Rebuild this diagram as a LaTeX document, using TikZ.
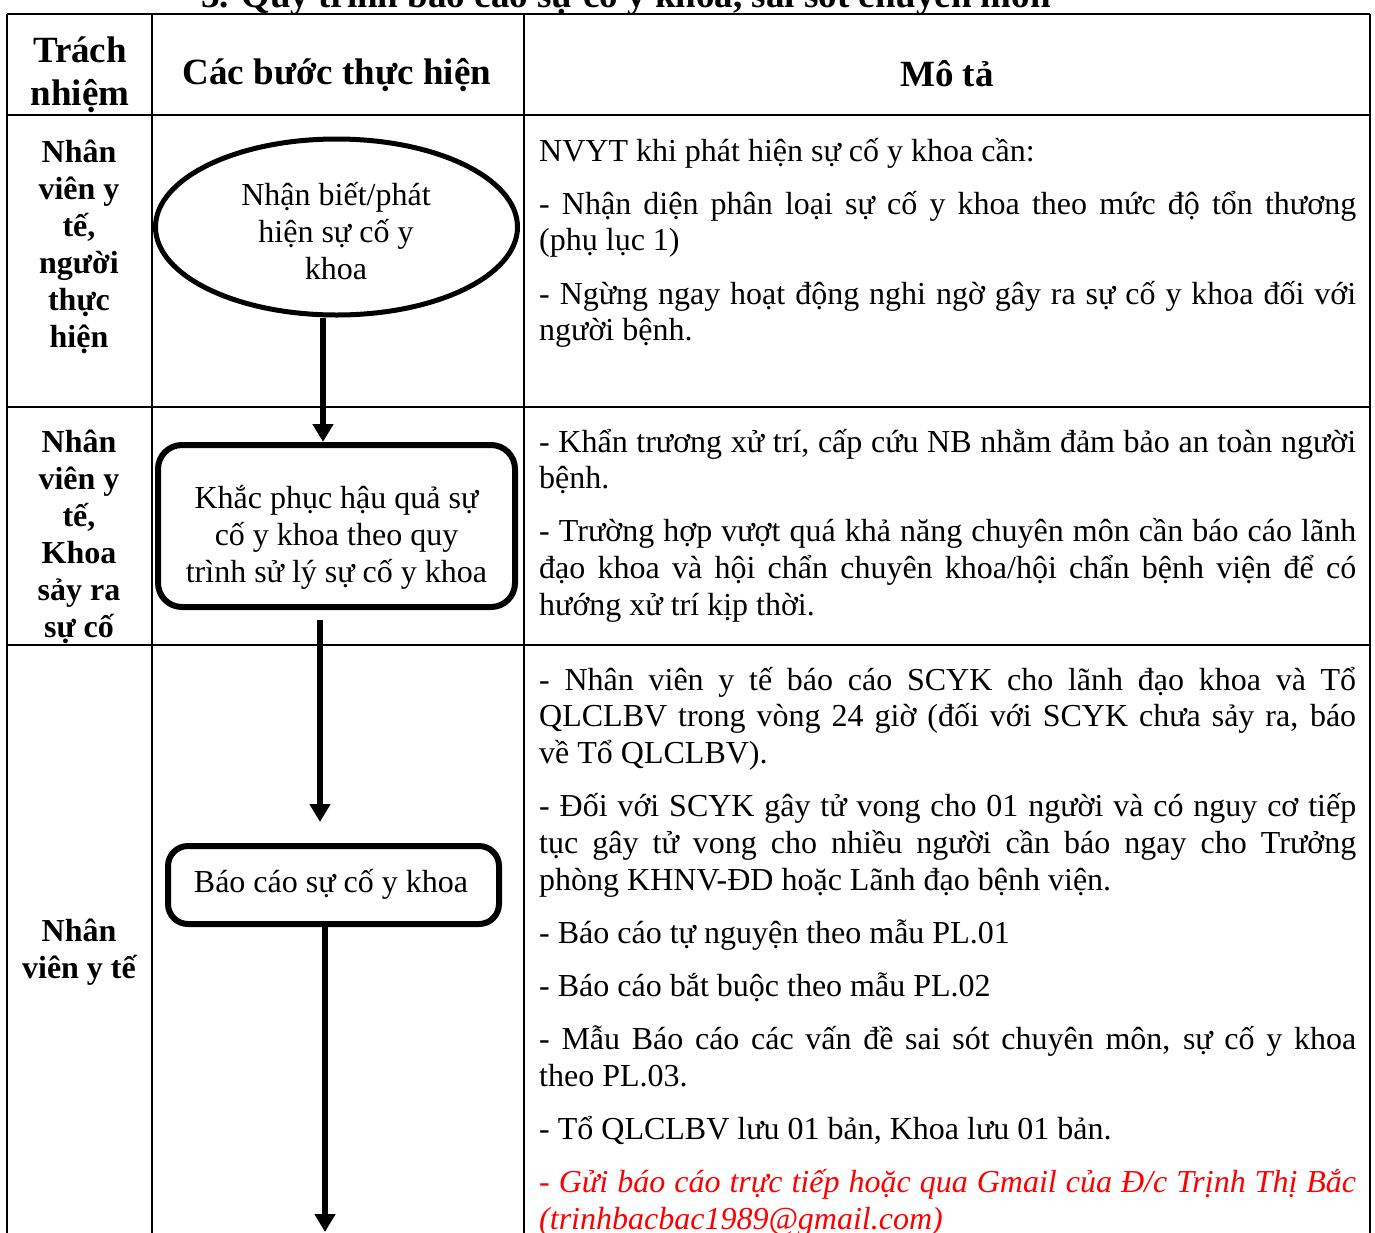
\documentclass[tikz,border=0pt]{standalone}
\usepackage{fontspec}
\setmainfont{Liberation Serif}
\usetikzlibrary{arrows.meta,shapes.geometric}
\begin{document}
\begin{tikzpicture}[x=1pt,y=-1pt,
  grid/.style={line width=2pt},
  hdr/.style={font=\bfseries\fontsize{37}{43}\selectfont, align=center, inner sep=0pt},
  resp/.style={font=\bfseries\fontsize{32}{37}\selectfont, align=center, inner sep=0pt},
  flowtext/.style={font=\fontsize{32}{37}\selectfont, align=center, inner sep=0pt},
  flowbox/.style={draw, line width=6pt, inner sep=0pt},
  desc/.style={anchor=base west, text width=817pt, inner sep=0pt, align=justify,
    execute at begin node={\fontsize{32}{36.7}\selectfont\parskip=16.5pt\relax\parindent=0pt\hyphenpenalty=10000\relax}},
  arr/.style={line width=6pt, -{Triangle[width=20pt,length=18pt]}}
]
\useasboundingbox (0,0) rectangle (1375,1232);
\clip (0,0) rectangle (1375,1232);

% title (cut off at the top)
\node[font=\bfseries\fontsize{37}{43}\selectfont, anchor=base, inner sep=0pt] (title) at (626,7) {3. Quy trình báo cáo sự cố y khoa, sai sót chuyên môn};

% table grid
\draw[grid] (7,14) -- (1370,14);
\draw[grid] (7,115) -- (1370,115);
\draw[grid] (7,407) -- (1370,407);
\draw[grid] (7,645) -- (1370,645);
\draw[grid] (7,14) -- (7,1240);
\draw[grid] (152,14) -- (152,1240);
\draw[grid] (524,14) -- (524,1240);
\draw[grid] (1370,14) -- (1370,1240);

% header
\node[hdr] (h1) at (80,75) {Trách\\nhiệm};
\node[hdr] (h2) at (337,75) {Các bước thực hiện};
\node[hdr] (h3) at (947,74) {Mô tả};

% responsibility column
\node[resp] (r1) at (79,247) {Nhân\\viên y\\tế,\\người\\thực\\hiện};
\node[resp] (r2) at (79,537) {Nhân\\viên y\\tế,\\Khoa\\sảy ra\\sự cố};
\node[resp] (r3) at (79,952) {Nhân\\viên y tế};

% flow steps
\node[draw, ellipse, line width=5pt, minimum width=362pt, minimum height=176pt, inner sep=0pt] (e1) at (336.5,227) {};
\node[flowtext] (t1) at (336,231) {Nhận biết/phát\\hiện sự cố y\\khoa};

\node[flowbox, rounded corners=24pt, minimum width=357pt, minimum height=162pt] (b2) at (336.5,526) {};
\node[flowtext] (t2) at (336.5,537) {Khắc phục hậu quả sự\\cố y khoa theo quy\\trình sử lý sự cố y khoa};

\node[flowbox, rounded corners=20pt, minimum width=331pt, minimum height=78pt] (b3) at (333.5,885) {};
\node[flowtext] (t3) at (331,884) {Báo cáo sự cố y khoa};

% connectors
\draw[arr] ([xshift=-13.5pt]e1.south) -- ([xshift=-13.5pt]e1.south |- b2.north);
\coordinate (a2s) at (320,620);
\coordinate (a2e) at (320,822);
\draw[arr] (a2s) -- (a2e);
\coordinate (a3e) at (325,1232);
\draw[arr] ([xshift=-8.5pt]b3.south) -- (a3e);

% descriptions
\node[desc] (d1) at (539,161) {NVYT khi phát hiện sự cố y khoa cần:\par
- Nhận diện phân loại sự cố y khoa theo mức độ tổn thương\linebreak (phụ lục 1)\par
- Ngừng ngay hoạt động nghi ngờ gây ra sự cố y khoa đối với\linebreak người bệnh.};

\node[desc] (d2) at (539,452) {- Khẩn trương xử trí, cấp cứu NB nhằm đảm bảo an toàn người\linebreak bệnh.\par
- Trường hợp vượt quá khả năng chuyên môn cần báo cáo lãnh\linebreak đạo khoa và hội chẩn chuyên khoa/hội chẩn bệnh viện để có\linebreak hướng xử trí kịp thời.};

\node[desc] (d3) at (539,690) {- Nhân viên y tế báo cáo SCYK cho lãnh đạo khoa và Tổ\linebreak QLCLBV trong vòng 24 giờ (đối với SCYK chưa sảy ra, báo\linebreak về Tổ QLCLBV).\par
- Đối với SCYK gây tử vong cho 01 người và có nguy cơ tiếp\linebreak tục gây tử vong cho nhiều người cần báo ngay cho Trưởng\linebreak phòng KHNV-ĐD hoặc Lãnh đạo bệnh viện.\par
- Báo cáo tự nguyện theo mẫu PL.01\par
- Báo cáo bắt buộc theo mẫu PL.02\par
- Mẫu Báo cáo các vấn đề sai sót chuyên môn, sự cố y khoa\linebreak theo PL.03.\par
- Tổ QLCLBV lưu 01 bản, Khoa lưu 01 bản.\par
{\color{red}\itshape - Gửi báo cáo trực tiếp hoặc qua Gmail của Đ/c Trịnh Thị Bắc\linebreak (trinhbacbac1989@gmail.com)}};
\end{tikzpicture}
\end{document}
